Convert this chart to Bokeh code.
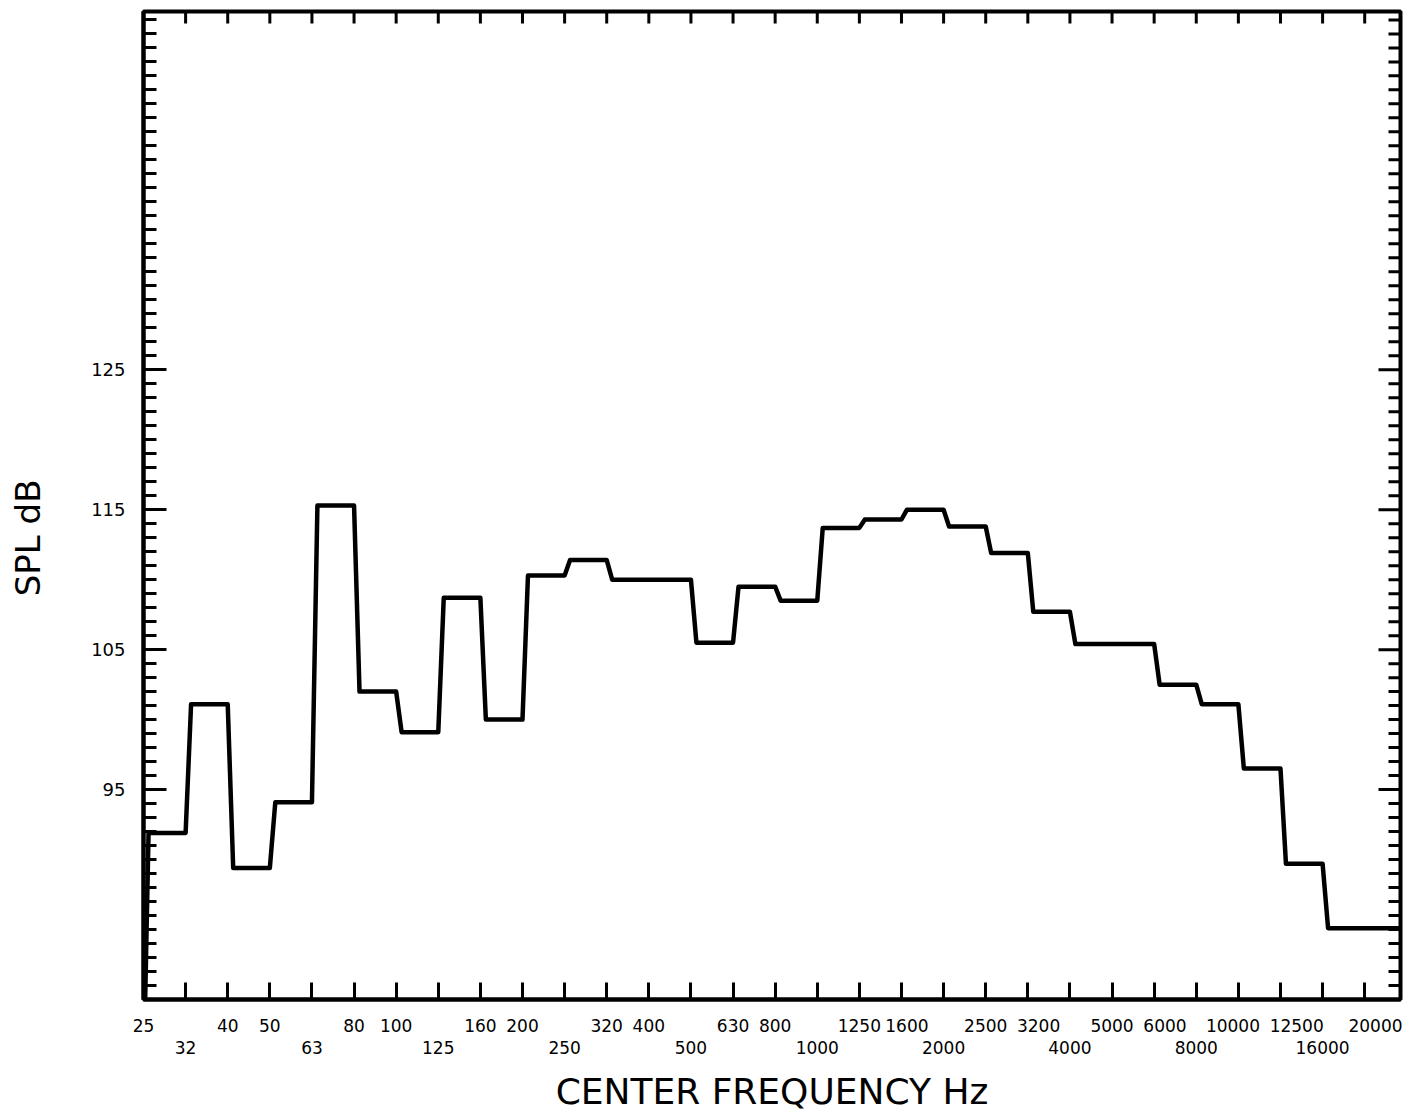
import math
from bokeh.plotting import figure
from bokeh.models import Range1d, FixedTicker, LinearAxis
from bokeh.embed import file_html
from bokeh.resources import INLINE

# 1/3-octave band centre frequencies (Hz)
bands = ["25", "32", "40", "50", "63", "80", "100", "125", "160", "200",
         "250", "320", "400", "500", "630", "800", "1000", "1250", "1600", "2000",
         "2500", "3200", "4000", "5000", "6000", "8000", "10000", "12500", "16000", "20000"]
# SPL level in each band (dB)
spl = [91.9, 101.1, 89.4, 94.1, 115.3, 102.0, 99.1, 108.7, 100.0, 110.3,
       111.4, 110.0, 110.0, 105.5, 109.5, 108.5, 113.7, 114.3, 115.0, 113.8,
       111.9, 107.7, 105.4, 105.4, 102.5, 101.1, 96.5, 89.7, 85.1, 85.1]
# second-row labels on the frequency axis
second_row = ["32", "63", "125", "250", "500", "1000", "2000", "4000", "8000", "16000"]
# labelled SPL ticks
spl_ticks = [95, 105, 115, 125]

# hand-lettering nudges of some frequency labels
# (no-break spaces: positive = push right, negative = push left; style only)
label_nudge = {"1600": 2, "3200": 4, "6000": 4, "10000": -2, "12500": 6, "20000": 4}

Y_MIN, Y_MAX = 80, 150.6
X_END = 29.85
RISE = 0.13  # horizontal width of each hand-drawn riser (band units)

FONT = "DejaVu Sans"
NBSP = "\u00a0"

p = figure(width=1410, height=1114, output_backend="svg", toolbar_location=None,
           x_range=Range1d(0, X_END), y_range=Range1d(Y_MIN, Y_MAX),
           x_axis_type=None, y_axis_type=None,
           min_border_left=143, min_border_right=10, min_border_top=11, min_border_bottom=114)
p.background_fill_color = "white"
p.border_fill_color = "white"
p.outline_line_color = "black"
p.outline_line_width = 4

# step curve built from band indices
xs = [0.04]
ys = [Y_MIN]
for i, v in enumerate(spl):
    xs.append(i + RISE if i > 0 else 0.12)
    ys.append(v)
    xs.append(i + 1 if i < len(spl) - 1 else X_END)
    ys.append(v)
p.line(xs, ys, line_color="black", line_width=4.5, line_join="round", line_cap="round")

band_ticks = list(range(len(bands)))
overrides = {}
for i, b in enumerate(bands):
    n = label_nudge.get(b, 0)
    txt = NBSP * n + b if n >= 0 else b + NBSP * (-n)
    overrides[i] = ("\n" + txt) if b in second_row else txt

minor = list(range(80, 151))

xb = LinearAxis(ticker=FixedTicker(ticks=band_ticks, minor_ticks=[]),
                major_label_overrides=overrides,
                major_tick_in=17, major_tick_out=0, minor_tick_in=0, minor_tick_out=0,
                axis_line_width=4, major_tick_line_width=3,
                major_label_standoff=16, major_label_text_font_size="17px",
                major_label_text_font=FONT, major_label_text_line_height=1.1,
                major_label_text_color="black",
                axis_label="CENTER FREQUENCY Hz", axis_label_text_font_size="36px",
                axis_label_text_font=FONT, axis_label_text_font_style="normal",
                axis_label_text_color="black",
                axis_label_standoff=10)
p.add_layout(xb, "below")

yl = LinearAxis(ticker=FixedTicker(ticks=spl_ticks, minor_ticks=minor),
                major_tick_in=23, major_tick_out=0, minor_tick_in=13, minor_tick_out=0,
                axis_line_width=4, major_tick_line_width=3, minor_tick_line_width=3,
                major_label_standoff=18, major_label_text_font_size="18px",
                major_label_text_font=FONT, major_label_text_color="black",
                axis_label="SPL dB" + NBSP * 6, axis_label_text_font_size="34px",
                axis_label_text_font=FONT, axis_label_text_font_style="normal",
                axis_label_text_color="black",
                axis_label_standoff=40)
p.add_layout(yl, "left")

# inward tick marks along the top and right frame edges
p.ray(x=band_ticks, y=[Y_MAX] * len(band_ticks), length=12, length_units="screen",
      angle=-math.pi / 2, line_color="black", line_width=3)
minor_only = [t for t in minor if t not in spl_ticks]
p.ray(x=[X_END] * len(minor_only), y=minor_only, length=12, length_units="screen",
      angle=math.pi, line_color="black", line_width=3)
p.ray(x=[X_END] * len(spl_ticks), y=spl_ticks, length=22, length_units="screen",
      angle=math.pi, line_color="black", line_width=3)

open("out.html", "w").write(file_html(p, INLINE))
